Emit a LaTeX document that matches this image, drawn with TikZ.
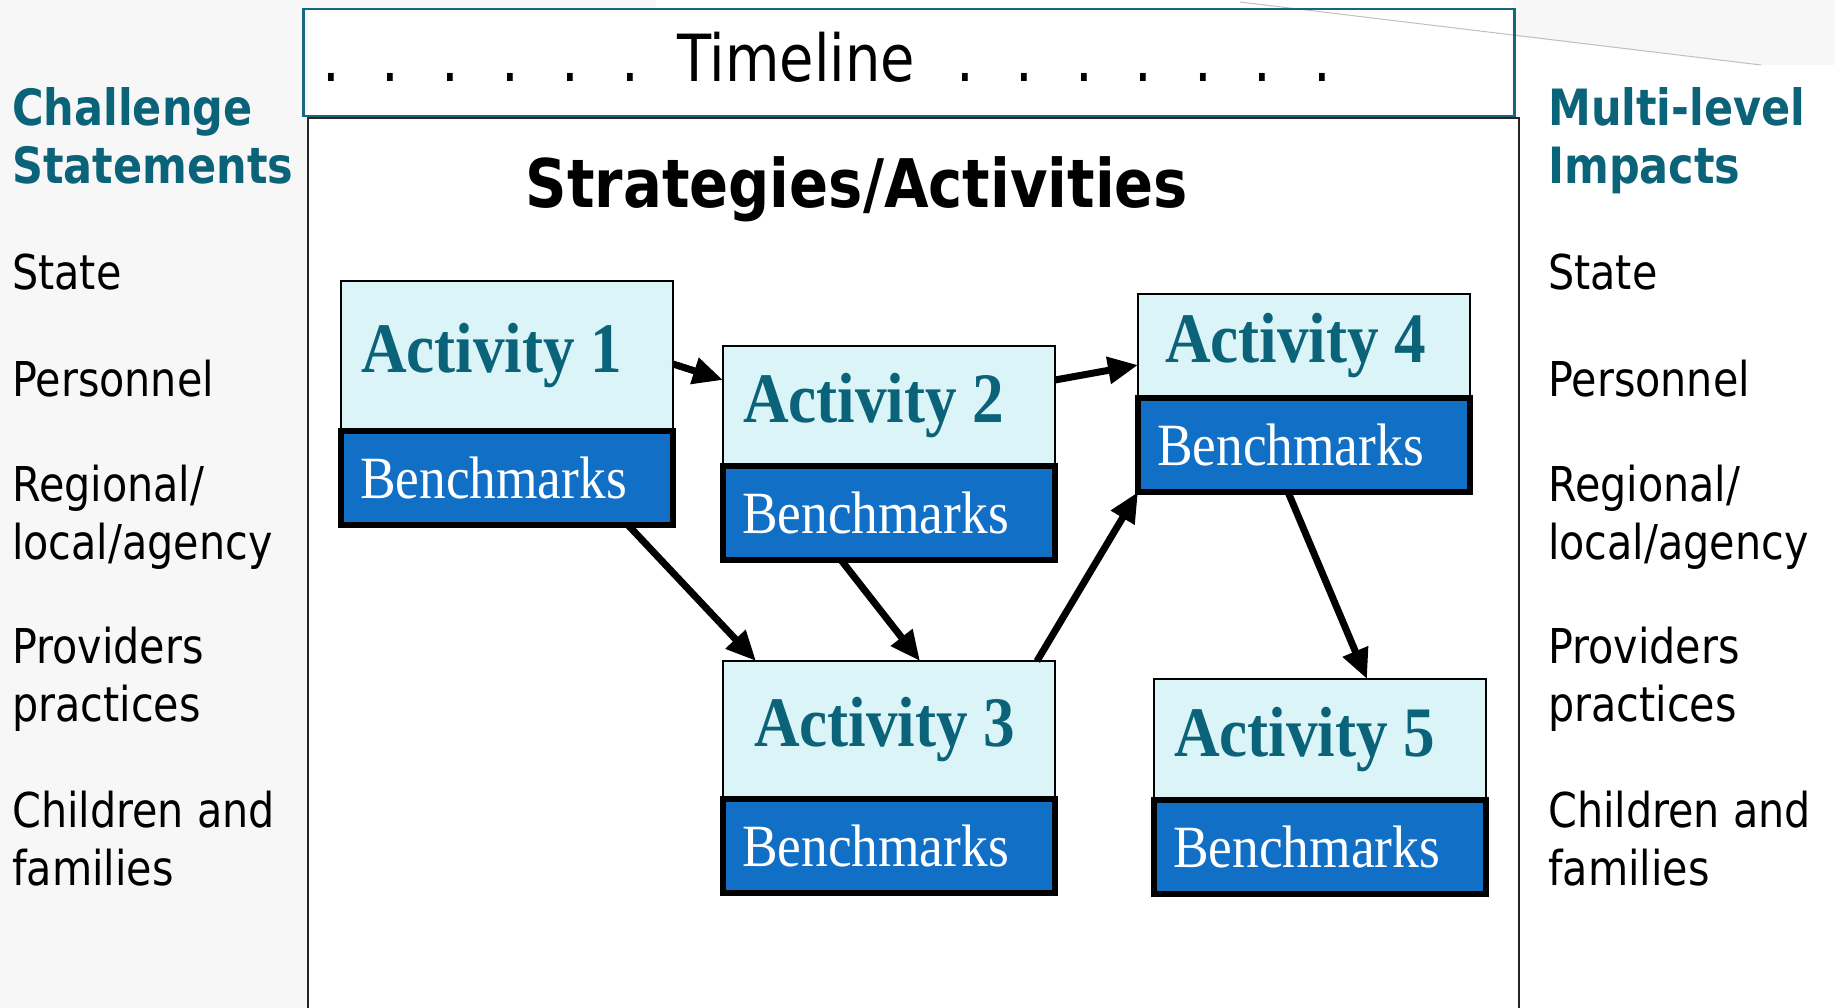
\documentclass[tikz,border=0pt]{standalone}
\usepackage{fontspec}
\usetikzlibrary{positioning,arrows.meta}

\newfontfamily\lvlfont[FakeStretch=0.86]{DejaVu Sans}
\newfontfamily\actfont[FakeStretch=0.89]{Liberation Serif}

\definecolor{tealtxt}{HTML}{0B6379}
\definecolor{actfill}{HTML}{DBF4F7}
\definecolor{bmfill}{HTML}{116FC6}
\definecolor{tlline}{HTML}{15677E}
\definecolor{bgpat}{HTML}{F7F7F7}

\tikzset{
  actbox/.style={draw=black, line width=1.5pt, fill=actfill, outer sep=0pt,
    minimum width=332pt, text width=292pt, inner xsep=20pt, align=left,
    text=tealtxt, font=\actfont\bfseries\fontsize{71}{71}\selectfont,
    anchor=north west},
  bmbox/.style={draw=black, line width=6pt, fill=bmfill, outer sep=0pt,
    minimum width=332pt, minimum height=94pt, text width=294pt, inner xsep=19pt,
    align=left, text=white, font=\actfont\fontsize{60}{60}\selectfont},
  flow/.style={-{Triangle[length=30pt,width=26pt]}, line width=7pt},
  lvl/.style={font=\lvlfont\fontsize{48}{58}\selectfont, align=left, anchor=base west, inner sep=0pt},
  lvlhead/.style={lvl, font=\lvlfont\bfseries\fontsize{50}{58}\selectfont, text=tealtxt},
  tldot/.style={font=\lvlfont\fontsize{65}{65}\selectfont, anchor=base, inner sep=0pt},
}

\begin{document}
\begin{tikzpicture}[x=1pt,y=-1pt]
  \useasboundingbox (0,0) rectangle (1835,1008);

  % background
  \fill[bgpat] (0,0) rectangle (308,1008);
  \fill[bgpat] (0,0) rectangle (656,8);
  \fill[bgpat] (1513,0) -- (1835,0) -- (1835,65) -- (1761,65) -- (1513,36) -- cycle;
  \draw[black!25, line width=1pt] (1240,2) -- (1761,65);

  % timeline
  \node[draw=tlline, line width=2.5pt, minimum width=1211pt, minimum height=107pt,
    anchor=north west] (tlbox) at (302,8) {};
  \node[tldot] (tltext) at (796,82) {Timeline};
  \foreach \i in {0,...,5}
    \node[tldot] (dl\i) at ({331+59.8*\i},82) {.};
  \foreach \i in {0,...,6}
    \node[tldot] (dr\i) at ({965+59.5*\i},82) {.};

  % strategies box
  \draw[line width=2pt, black!85] (308,1008) |- (1519,118) -- (1519,1008);
  \node[font=\lvlfont\bfseries\fontsize{67}{67}\selectfont, anchor=base] (strat) at (857,208) {Strategies/Activities};

  % left column (base = last line)
  \node[lvlhead] (chal) at (12,184) {Challenge\\Statements};
  \node[lvl] (lstate) at (12,289) {State};
  \node[lvl] (lpers) at (12,396) {Personnel};
  \node[lvl] (lreg) at (12,559) {Regional/\\local/agency};
  \node[lvl] (lprov) at (12,721) {Providers\\practices};
  \node[lvl] (lchild) at (12,885) {Children and\\families};

  % right column
  \node[lvlhead] (impact) at (1548,184) {Multi-level\\Impacts};
  \node[lvl] (rstate) at (1548,289) {State};
  \node[lvl] (rpers) at (1548,396) {Personnel};
  \node[lvl] (rreg) at (1548,559) {Regional/\\local/agency};
  \node[lvl] (rprov) at (1548,721) {Providers\\practices};
  \node[lvl] (rchild) at (1548,885) {Children and\\families};

  % activities
  \node[actbox, minimum height=150pt] (act1) at (341,281) {Activity\hspace{0.22em}1};
  \node[bmbox, below=0pt of act1] (bm1) {Benchmarks};
  \node[actbox, minimum height=120pt] (act2) at (723,346) {Activity\hspace{0.22em}2};
  \node[bmbox, below=0pt of act2] (bm2) {Benchmarks};
  \node[actbox, minimum height=104pt, inner xsep=27pt, text width=278pt] (act4) at (1138,294) {Activity\hspace{0.22em}4};
  \node[bmbox, below=0pt of act4] (bm4) {Benchmarks};
  \node[actbox, minimum height=138pt, inner xsep=31pt, text width=270pt] (act3) at (723,661) {Activity\hspace{0.22em}3};
  \node[bmbox, below=0pt of act3] (bm3) {Benchmarks};
  \node[actbox, minimum height=121pt] (act5) at (1154,679) {Activity\hspace{0.22em}5};
  \node[bmbox, below=0pt of act5] (bm5) {Benchmarks};

  % arrows
  \draw[flow] ([yshift=-8pt]act1.east) -- ([yshift=26pt]act2.west);
  \draw[flow] ([yshift=26pt]act2.east) -- ([yshift=-19pt]act4.west);
  \draw[flow] ([xshift=121pt]bm1.south) -- ([xshift=-133pt]act3.north);
  \draw[flow] ([xshift=-48pt]bm2.south) -- ([xshift=31pt]act3.north);
  \draw[flow] ([xshift=148pt]act3.north) -- (bm4.south west);
  \draw[flow] ([xshift=-16pt]bm4.south) -- ([xshift=47pt]act5.north);
\end{tikzpicture}
\end{document}
